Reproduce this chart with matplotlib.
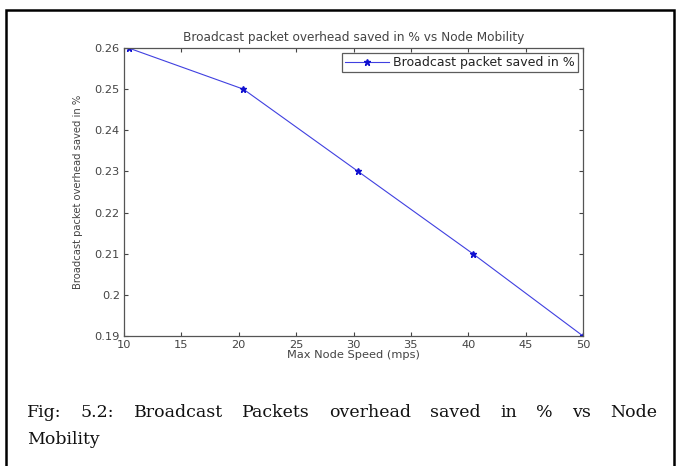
import matplotlib.pyplot as plt
from matplotlib.patches import Rectangle

# values
speed = [10.4, 20.4, 30.4, 40.4, 50]
saved = [0.26, 0.25, 0.23, 0.21, 0.19]
xticks = [10, 15, 20, 25, 30, 35, 40, 45, 50]
yticks = [0.19, 0.2, 0.21, 0.22, 0.23, 0.24, 0.25, 0.26]
ytick_labels = ['0.19', '0.2', '0.21', '0.22', '0.23', '0.24', '0.25', '0.26']
caption1 = 'Fig: 5.2: Broadcast Packets overhead saved in % vs Node'
caption2 = 'Mobility'

plt.rcParams['font.family'] = ['DejaVu Sans']

W, H = 676, 466
fig = plt.figure(figsize=(W / 100, H / 100), dpi=100)

# outer document frame
fig.patches.append(Rectangle((6 / W, -0.05), 668 / W, 1 - 10 / H + 0.05,
                             transform=fig.transFigure, fill=False,
                             edgecolor='black', linewidth=1.8))

ax = fig.add_axes([124 / W, 1 - 336 / H, (583 - 124) / W, (336 - 48) / H])
ax.plot(speed, saved, color='#4040e0', linewidth=0.8, marker='*',
        markersize=5, markeredgecolor='#1010d0', markerfacecolor='#1010d0',
        label='Broadcast packet saved in %')
ax.set_xlim(10, 50)
ax.set_ylim(0.19, 0.26)
ax.set_xticks(xticks)
ax.set_yticks(yticks)
ax.set_yticklabels(ytick_labels)

gray = '#444444'
ax.tick_params(direction='in', top=True, right=True, length=3, width=0.8,
               labelsize=8.2, labelcolor=gray, color=gray, pad=3)
for s in ax.spines.values():
    s.set_color('#555555')
    s.set_linewidth(0.9)

ax.set_title('Broadcast packet overhead saved in % vs Node Mobility',
             fontsize=8.7, color=gray, pad=5)
ax.set_xlabel('Max Node Speed (mps)', fontsize=8.2, color=gray, labelpad=0)
ax.set_ylabel('Broadcast packet overhead saved in %', fontsize=7.2,
              color=gray, labelpad=8)

leg = ax.legend(loc='upper right', fontsize=9, frameon=True, fancybox=False,
                borderpad=0.25, handlelength=3.5, handletextpad=0.35,
                borderaxespad=0.4)
leg.get_frame().set_edgecolor('#333333')
leg.get_frame().set_linewidth(0.9)
for t in leg.get_texts():
    t.set_color('#222222')

# justified caption, first line spread between left and right margins
cap_font = dict(family='DejaVu Serif', fontsize=12.5, color='#111111')
fig.canvas.draw()
renderer = fig.canvas.get_renderer()
words = caption1.split(' ')
left, right = 27 / W, 657 / W
widths = []
for w in words:
    t = fig.text(0, 0, w, **cap_font)
    bb = t.get_window_extent(renderer)
    widths.append(bb.width / W)
    t.remove()
gap = (right - left - sum(widths)) / (len(words) - 1)
x = left
y1 = 1 - 417 / H
for w, wd in zip(words, widths):
    fig.text(x, y1, w, va='baseline', **cap_font)
    x += wd + gap
fig.text(left, 1 - 444 / H, caption2, va='baseline', **cap_font)

fig.savefig('out.png', dpi=100)
